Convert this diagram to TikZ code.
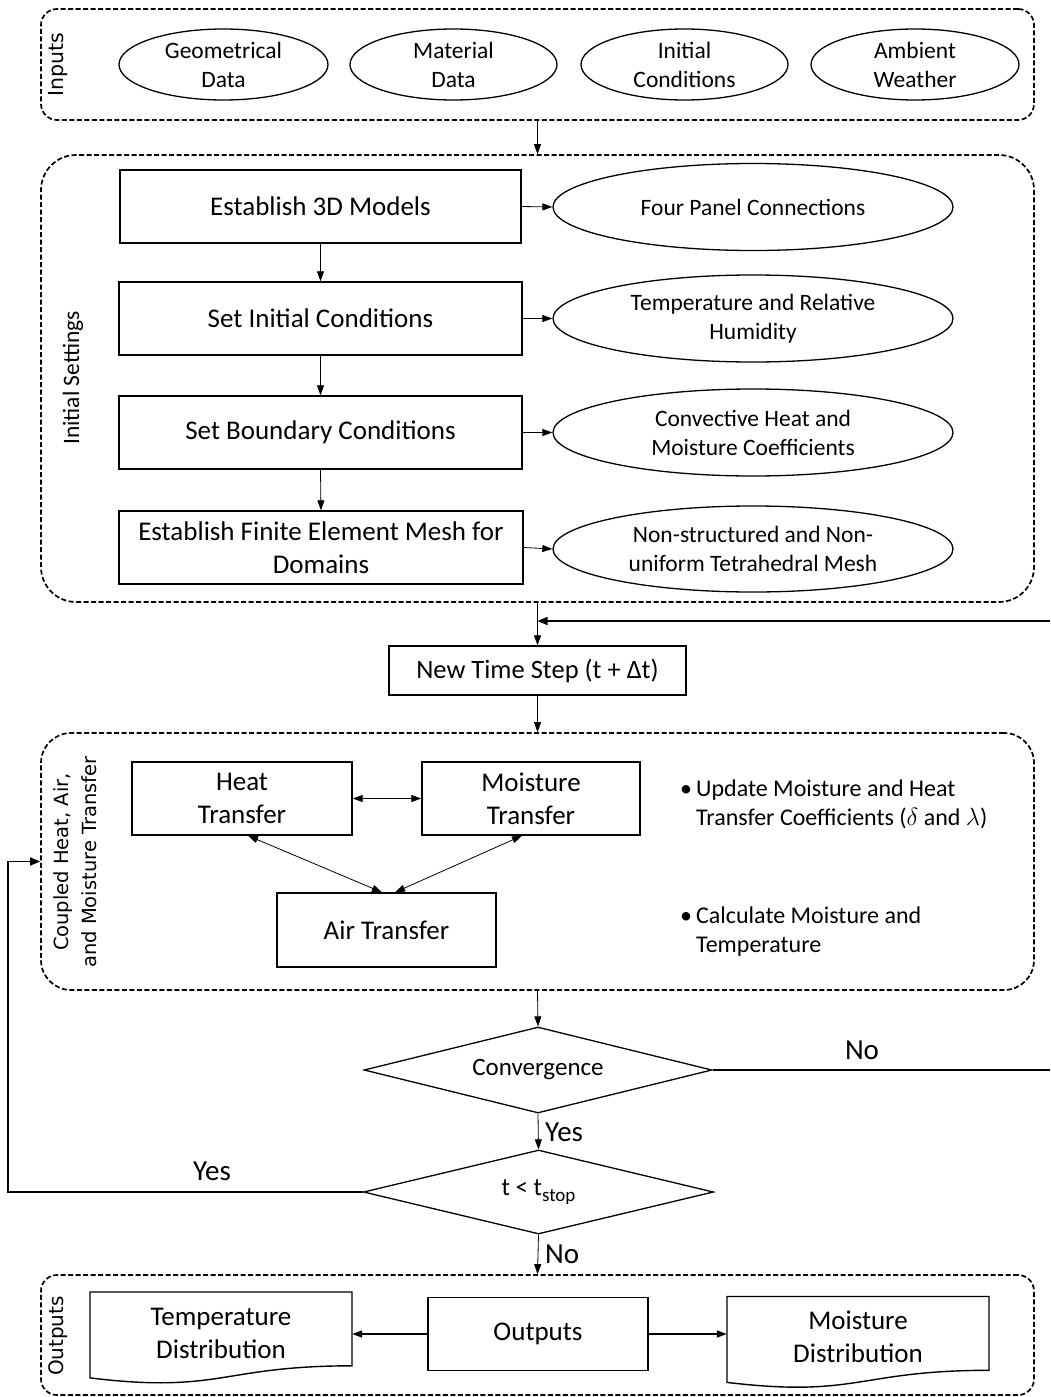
\documentclass[tikz,border=0pt]{standalone}
\usepackage{fontspec}
\setmainfont{Carlito}
\newfontfamily\dvs{DejaVu Sans}
\usetikzlibrary{shapes.geometric,arrows.meta}
\newcommand{\fsz}[2]{\fontsize{#1}{#2}\selectfont}
\begin{document}
\begin{tikzpicture}[x=1pt,y=-1pt,
  grp/.style={draw, line width=1.7pt, dash pattern=on 5pt off 2.5pt, inner sep=0pt},
  box/.style={draw, line width=1.4pt, inner sep=2pt, align=center, font=\fsz{27}{33}},
  ell/.style={ellipse, draw, line width=1.3pt, inner sep=0pt, align=center, font=\fsz{23.5}{29}},
  dia/.style={diamond, draw, line width=1.3pt, inner sep=0pt, align=center, font=\fsz{25}{30}},
  arr/.style={-{Triangle[length=10pt,width=7pt]}, line width=0.8pt},
  darr/.style={{Triangle[length=10pt,width=7pt]}-{Triangle[length=10pt,width=7pt]}, line width=0.8pt},
  flow/.style={line width=1.6pt},
  lbl/.style={font=\fsz{29}{34}, inner sep=0pt},
  side/.style={rotate=90, align=center, inner sep=0pt},
  txt/.style={align=left, inner sep=0pt, anchor=west, font=\fsz{24}{29}}
]
\useasboundingbox (0,0) rectangle (1050,1397);

% ---------- Inputs ----------
\node[grp, rounded corners=16pt, minimum width=993pt, minimum height=111pt] (ginp) at (537.5,64.5) {};
\node[side, font=\dvs\fsz{20.5}{24}] (linp) at (58,64.5) {Inputs};
\node[ell, minimum width=209pt, minimum height=71pt] (geo) at (223.5,64.5) {Geometrical\\Data};
\node[ell, minimum width=207pt, minimum height=71pt] (mat) at (453.5,64.5) {Material\\Data};
\node[ell, minimum width=207pt, minimum height=71pt] (ini) at (684.5,64.5) {Initial\\Conditions};
\node[ell, minimum width=208pt, minimum height=71pt] (amb) at (915,64.5) {Ambient\\Weather};

% ---------- Initial settings ----------
\node[grp, rounded corners=35pt, minimum width=993pt, minimum height=447pt] (ginit) at (537.5,378.5) {};
\node[side, font=\fsz{23.5}{28}] (linit) at (73,378) {Initial Settings};
\node[box, minimum width=401pt, minimum height=73pt] (m3d) at (320.5,206.5) {Establish 3D Models};
\node[box, minimum width=403pt, minimum height=73pt] (sic) at (320.5,318.5) {Set Initial Conditions};
\node[box, minimum width=403pt, minimum height=73pt] (sbc) at (320.5,432.5) {Set Boundary Conditions};
\node[box, minimum width=404pt, minimum height=73pt] (fem) at (321,547.5) {Establish Finite Element Mesh for\\Domains};
\node[ell, minimum width=400pt, minimum height=87pt] (e1) at (753,207) {Four Panel Connections};
\node[ell, minimum width=400pt, minimum height=87pt] (e2) at (753,318.5) {Temperature and Relative\\Humidity};
\node[ell, minimum width=400pt, minimum height=87pt] (e3) at (753,432.5) {Convective Heat and\\Moisture Coefficients};
\node[ell, minimum width=400pt, minimum height=86pt] (e4) at (753,549) {Non-structured and Non-\\uniform Tetrahedral Mesh};
\draw[arr] (m3d.east) -- (e1.west);
\draw[arr] (sic.east) -- (e2.west);
\draw[arr] (sbc.east) -- (e3.west);
\draw[arr] (fem.east) -- (e4.west);
\draw[arr] (m3d.south) -- (sic.north);
\draw[arr] (sic.south) -- (sbc.north);
\draw[arr] (sbc.south) -- (fem.north);
\draw[arr] (ginp.south) -- (ginit.north);

% ---------- New time step ----------
\node[box, minimum width=297pt, minimum height=49pt, font=\fsz{26.5}{30}] (nts) at (537.5,670.5) {New Time Step (t + Δt)};
\draw[arr] (ginit.south) -- (nts.north);
\coordinate (fbr) at (1050,621);
\draw[flow, -{Triangle[length=10pt,width=8pt]}] (fbr) -- (fbr -| nts.north);

% ---------- Coupled transfer ----------
\node[grp, rounded corners=30pt, minimum width=993pt, minimum height=257pt] (gcoup) at (537.5,861.5) {};
\node[side, font=\dvs\fsz{19.5}{28}] (lcoup) at (75,862) {Coupled Heat, Air,\\and Moisture Transfer};
\node[box, minimum width=220pt, minimum height=73pt] (heat) at (242,798.5) {Heat\\Transfer};
\node[box, minimum width=218pt, minimum height=73pt] (moist) at (531,798.5) {Moisture\\Transfer};
\node[box, minimum width=219pt, minimum height=74pt] (air) at (386.5,930) {Air Transfer};
\draw[darr] (heat.east) -- (moist.west);
\draw[darr] ([xshift=6pt]heat.south) -- ([xshift=-4.5pt]air.north);
\draw[darr] ([xshift=-9pt]moist.south) -- ([xshift=8.5pt]air.north);
\node[txt] (b1) at (680,804) {\makebox[16pt][l]{\textbullet}Update Moisture and Heat\\\hspace*{16pt}Transfer Coefficients ($\delta$ and $\lambda$)};
\node[txt] (b2) at (680,932) {\makebox[16pt][l]{\textbullet}Calculate Moisture and\\\hspace*{16pt}Temperature};
\draw[arr] (nts.south) -- (gcoup.north);

% ---------- Decisions ----------
\node[dia, aspect=4.05, minimum width=348pt, minimum height=86pt] (conv) at (538,1070) {Convergence};
\node[dia, aspect=4.17, minimum width=350pt, minimum height=84pt] (tstop) at (538.5,1192) {t < t\raisebox{-6pt}{\fsz{19}{20}stop}};
\draw[arr] (gcoup.south) -- (conv.north);
\coordinate (fbr2) at (1050,1070);
\draw[flow] (conv.east) -- (fbr2);
\node[lbl] at (862,1050) {No};
\draw[arr] (conv.south) -- (tstop.north);
\node[lbl, anchor=west] at (545,1132) {Yes};
\draw[flow, -{Triangle[length=10pt,width=8pt]}] (tstop.west) -- ++(-355,0) |- (gcoup.west);
\node[lbl] at (212,1171) {Yes};

% ---------- Outputs ----------
\node[grp, rounded corners=16pt, minimum width=993pt, minimum height=120pt] (gout) at (537.5,1335) {};
\node[side, font=\dvs\fsz{20}{24}] (lout) at (58,1336) {Outputs};
\draw[arr] (tstop.south) -- (gout.north);
\node[lbl, anchor=west] at (545,1254) {No};
\node[box, minimum width=220pt, minimum height=73pt] (outn) at (538,1334) {Outputs};
\draw[line width=1.4pt] (90,1292) -- (352,1292) -- (352,1365.8)
  .. controls (221,1365.8) and (221,1393.8) .. (90,1377.9) -- cycle;
\node[align=center, font=\fsz{27}{33}, inner sep=0pt, minimum width=262pt] (tempd) at (221,1333) {Temperature\\Distribution};
\draw[line width=1.4pt] (727,1296.5) -- (989,1296.5) -- (989,1370.3)
  .. controls (858,1370.3) and (858,1398) .. (727,1382.4) -- cycle;
\node[align=center, font=\fsz{27}{33}, inner sep=0pt, minimum width=262pt] (moistd) at (858,1337) {Moisture\\Distribution};
\draw[line width=1.3pt, -{Triangle[length=10pt,width=7pt]}] (outn.west) -- (outn.west -| tempd.east);
\draw[line width=1.3pt, -{Triangle[length=10pt,width=7pt]}] (outn.east) -- (outn.east -| moistd.west);
\end{tikzpicture}
\end{document}
